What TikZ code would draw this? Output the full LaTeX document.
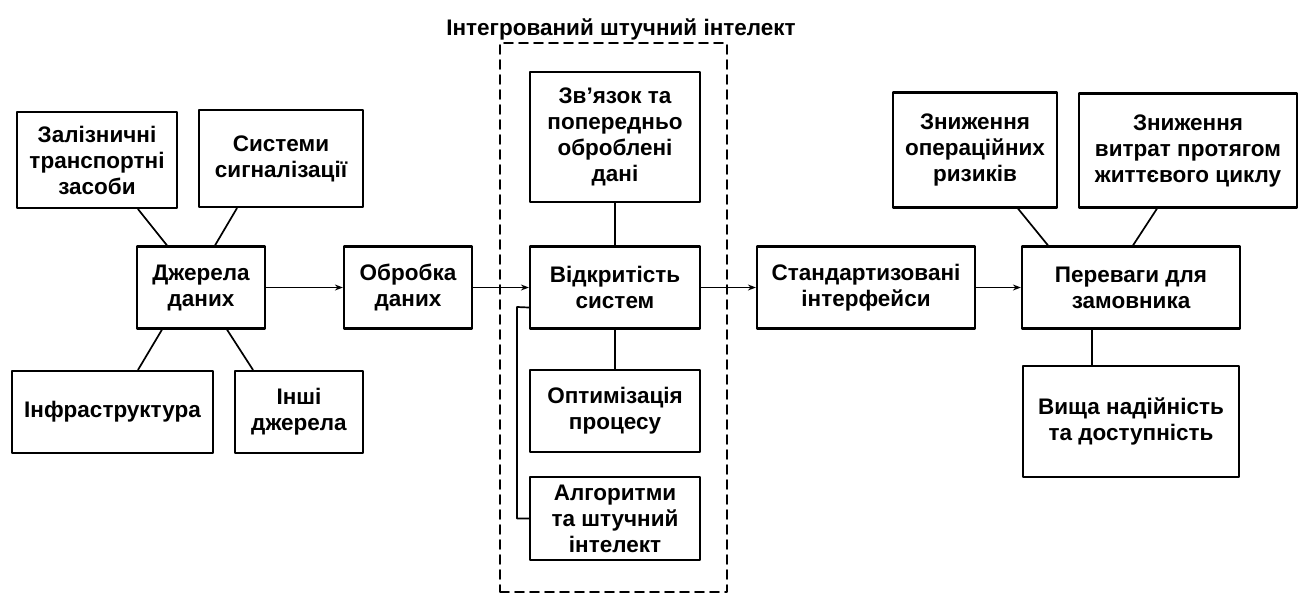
\documentclass[tikz,border=0pt]{standalone}
\usepackage{fontspec}
\setmainfont{Liberation Sans}
\usetikzlibrary{arrows.meta}
\begin{document}
\begin{tikzpicture}[x=1pt,y=-1pt,line cap=round,line join=round,>={Stealth[length=8pt,width=6pt]},
	font=\fontsize{22.5}{26}\selectfont\bfseries,
	box/.style 2 args={draw,line width=2.2pt,align=center,inner sep=0pt,
		minimum width=#1,minimum height=#2},
	link/.style={line width=1.7pt}]
	\useasboundingbox (0,0) rectangle (1302,595);
	% dzherela danykh
	\node[box={160}{96}] (zal) at (97,160) {Залізничні\\транспортні\\засоби};
	\node[box={164}{97}] (sys) at (281,158.5) {Системи\\сигналізації};
	\node[box={128}{82}] (dzh) at (201,287.5) {Джерела\\даних};
	\node[box={201}{82}] (infra) at (112.5,412) {Інфраструктура};
	\node[box={128}{82}] (inshi) at (299,412) {Інші\\джерела};
	\node[box={128}{82}] (obr) at (408,287.5) {Обробка\\даних};
	% intehrovanyi shtuchnyi intelekt
	\node[draw,line width=1.8pt,dash pattern=on 9pt off 6pt,minimum width=227,
		minimum height=549] (ai) at (613.5,317.5) {};
	\node (aititle) at (621,29) {Інтегрований штучний інтелект};
	\node[box={170}{130}] (zv) at (615,137) {Зв'язок та\\попередньо\\оброблені\\дані};
	\node[box={170}{82}] (vidk) at (615,287.5) {Відкритість\\систем};
	\node[box={170}{82}] (opt) at (615,411) {Оптимізація\\процесу};
	\node[box={170}{83}] (alg) at (615,518.5) {Алгоритми\\та штучний\\інтелект};
	% perevahy
	\node[box={218}{82}] (std) at (866,287.5) {Стандартизовані\\інтерфейси};
	\node[box={218}{82}] (per) at (1131,287.5) {Переваги для\\замовника};
	\node[box={164}{115}] (zn1) at (975,150) {Зниження\\операційних\\ризиків};
	\node[box={218}{114}] (zn2) at (1188,150.5) {Зниження\\витрат протягом\\життєвого циклу};
	\node[box={216}{111}] (vys) at (1131,421.5) {Вища надійність\\та доступність};
	% zviazky
	\foreach \a/\da/\b/\db in {zal/41/dzh/-34,sys/-44/dzh/14,zn1/43/per/-83,zn2/-31/per/2}{
		\draw[link] ([xshift=\da pt]\a.south) -- ([xshift=\db pt]\b.north);}
	\foreach \a/\da/\b/\db in {dzh/-39/infra/25.5,dzh/26/inshi/-46,per/-39/vys/-39,zv/0/vidk/0,vidk/0/opt/0}{
		\draw[link] ([xshift=\da pt]\a.south) -- ([xshift=\db pt]\b.north);}
	\foreach \a/\b in {dzh/obr,obr/vidk,vidk/std,std/per}{
		\draw[link,->] (\a) -- (\b);}
	\draw[link] (alg.west) -| (517,307) -- ([yshift=-20pt]vidk.west);
\end{tikzpicture}
\end{document}
